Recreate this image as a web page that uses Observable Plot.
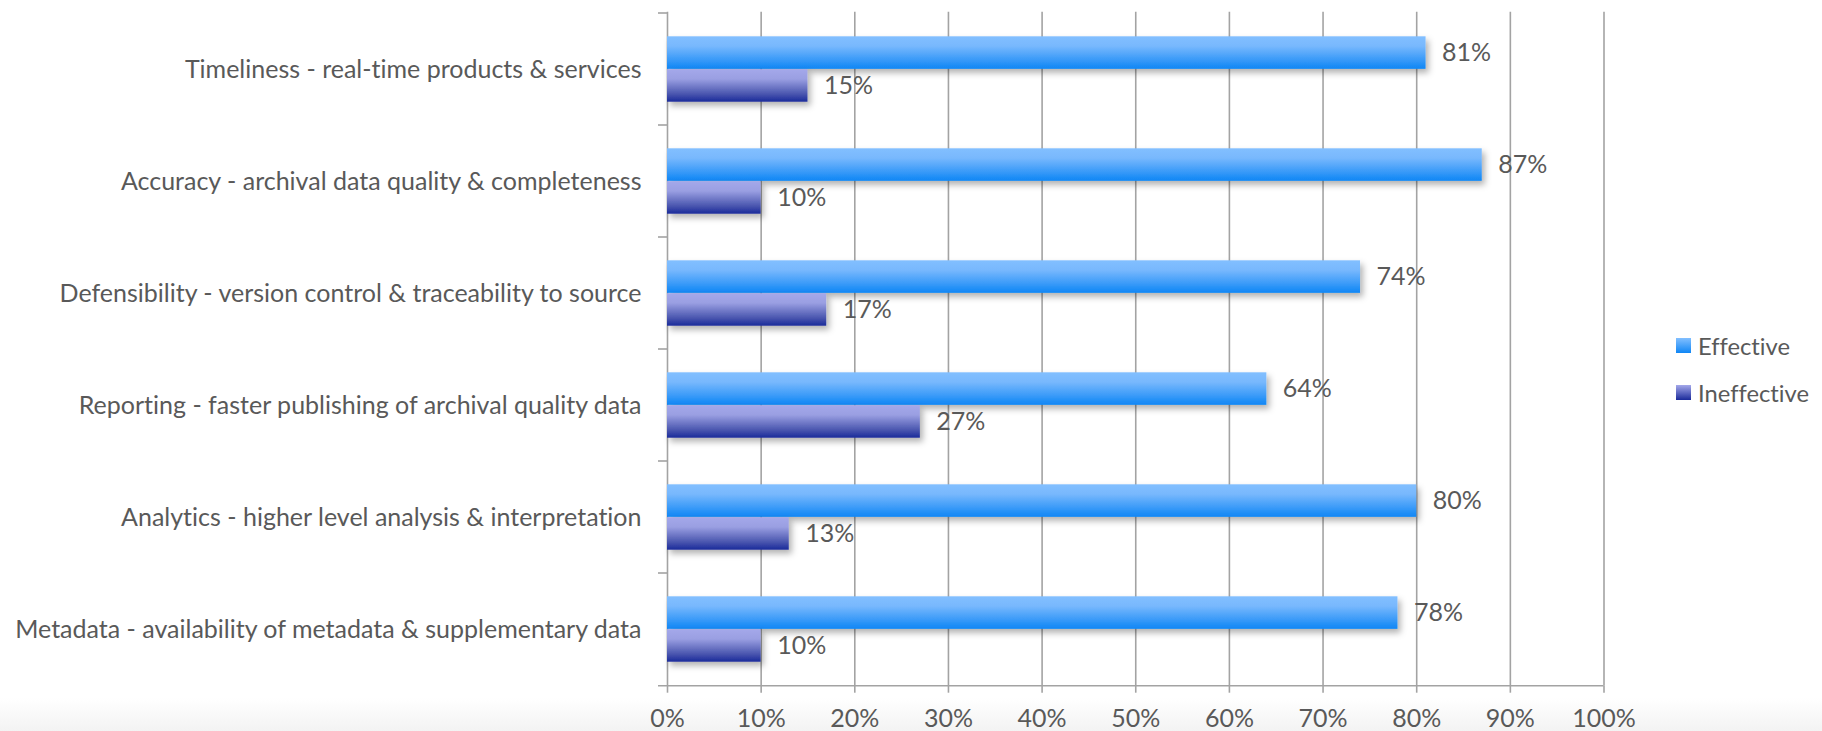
<!DOCTYPE html>
<html>
<head>
<meta charset="utf-8">
<script src="https://cdn.jsdelivr.net/npm/d3@7"></script>
<script src="https://cdn.jsdelivr.net/npm/@observablehq/plot@0.6"></script>
<style>
  html, body { margin: 0; padding: 0; }
  body {
    width: 1822px; height: 731px; overflow: hidden; position: relative;
    background: linear-gradient(to bottom, #ffffff 0px, #ffffff 698px, #f3f3f3 731px);
    font-family: Lato, "Open Sans", sans-serif;
    font-variant-ligatures: none;
  }
  svg text { font-variant-ligatures: none; }
  #chart { position: absolute; left: 0; top: 0; }
  #legend { position: absolute; left: 1676px; top: 322px; color: #595959; }
  .item { display: flex; align-items: center; height: 47px; }
  .sw { width: 15px; height: 15px; margin-right: 7px; }
</style>
</head>
<body>
<div id="chart"></div>
<div id="legend"></div>
<script>
// ---- data ----
const categories = [
  "Timeliness - real-time products & services",
  "Accuracy - archival data quality & completeness",
  "Defensibility - version control & traceability to source",
  "Reporting - faster publishing of archival quality data",
  "Analytics - higher level analysis & interpretation",
  "Metadata - availability of metadata & supplementary data"
];
const seriesNames = ["Effective", "Ineffective"];
const effective = [81, 87, 74, 64, 80, 78];
const ineffective = [15, 10, 17, 27, 13, 10];
const xTicks = [0, 10, 20, 30, 40, 50, 60, 70, 80, 90, 100];

// ---- build table ----
const rows = [];
categories.forEach((c, i) => {
  rows.push({category: c, series: seriesNames[0], value: effective[i]});
  rows.push({category: c, series: seriesNames[1], value: ineffective[i]});
});
const effRows = rows.filter(d => d.series === seriesNames[0]);
const ineRows = rows.filter(d => d.series === seriesNames[1]);

// ---- layout ----
const W = 1822, H = 731;
const mL = 667, mR = W - 1603.5, mT = 11.7, mB = H - 685.7;
const bw = (H - mT - mB) / categories.length;
const outer = 0.2075 * bw, barH = 0.2925 * bw;
const textColor = "#595959", gridColor = "#a3a3a3";

// font size fitted to the longest category label width
const ctx = document.createElement("canvas").getContext("2d");
ctx.font = "100px Lato";
const longest = categories.reduce((a, b) => ctx.measureText(a).width > ctx.measureText(b).width ? a : b);
const fs = Math.min(26, 628 / ctx.measureText(longest).width * 100);

const extraLines = (index, scales, values, dims) => {
  const g = d3.create("svg:g").attr("stroke", gridColor).attr("stroke-width", 1.6);
  const x0 = scales.x(0);
  categories.forEach(c => {
    const y = scales.y(c);
    g.append("line").attr("x1", x0 - 9).attr("x2", x0).attr("y1", y).attr("y2", y);
  });
  const yb = dims.height - dims.marginBottom;
  g.append("line").attr("x1", x0 - 9).attr("x2", scales.x(100)).attr("y1", yb).attr("y2", yb);
  return g.node();
};

const chart = Plot.plot({
  width: W, height: H,
  marginLeft: mL, marginRight: mR, marginTop: mT, marginBottom: mB,
  x: {domain: [0, 100]},
  y: {domain: categories, paddingInner: 0, paddingOuter: 0},
  style: {fontFamily: "Lato, 'Open Sans', sans-serif", fontSize: fs + "px", color: textColor, background: "transparent", overflow: "visible"},
  marks: [
    Plot.gridX(xTicks, {stroke: gridColor, strokeOpacity: 1, strokeWidth: 1.6}),
    Plot.axisX(xTicks, {tickSize: 7, tickPadding: 16, stroke: gridColor, strokeWidth: 1.6, strokeOpacity: 1, fill: textColor, tickFormat: d => d + "%", label: null, fontSize: fs}),
    Plot.axisY({tickSize: 0, tickPadding: 26, label: null, fill: textColor, fontSize: fs}),
    extraLines,
    Plot.barX(effRows, {x: "value", y: "category", fill: "url(#gEff)", insetTop: outer, insetBottom: bw - outer - barH}),
    Plot.barX(ineRows, {x: "value", y: "category", fill: "url(#gIne)", insetTop: outer + barH, insetBottom: outer}),
    Plot.text(effRows, {x: "value", y: "category", text: d => d.value + "%", dx: 16, dy: -barH / 2, textAnchor: "start", fill: textColor, fontSize: fs}),
    Plot.text(ineRows, {x: "value", y: "category", text: d => d.value + "%", dx: 16, dy: barH / 2, textAnchor: "start", fill: textColor, fontSize: fs})
  ]
});

const defs = d3.select(chart).insert("defs", ":first-child");
function grad(id, stops) {
  const g = defs.append("linearGradient").attr("id", id).attr("x1", 0).attr("y1", 0).attr("x2", 0).attr("y2", 1);
  stops.forEach(([o, c]) => g.append("stop").attr("offset", o).attr("stop-color", c));
}
grad("gEff", [[0, "#82bfff"], [0.3, "#78b8fd"], [1, "#0f86f5"]]);
grad("gIne", [[0, "#a4a8ea"], [0.3, "#9a9fe2"], [0.75, "#4c58b0"], [1, "#1a2a9a"]]);
const f = defs.append("filter").attr("id", "shadow").attr("x", "-5%").attr("y", "-30%").attr("width", "115%").attr("height", "180%");
f.append("feDropShadow").attr("dx", 3).attr("dy", 4).attr("stdDeviation", 3).attr("flood-color", "#000").attr("flood-opacity", 0.3);
d3.select(chart).selectAll('g[aria-label="bar"]').attr("filter", "url(#shadow)");

document.getElementById("chart").appendChild(chart);

// legend
const legend = d3.select("#legend").style("font-size", (fs * 0.95) + "px");
const swatchBg = {Effective: "linear-gradient(#82bfff, #0f86f5)", Ineffective: "linear-gradient(#a4a8ea, #1a2a9a)"};
seriesNames.forEach(s => {
  const it = legend.append("div").attr("class", "item");
  it.append("div").attr("class", "sw").style("background", swatchBg[s]);
  it.append("span").text(s);
});
</script>
</body>
</html>
